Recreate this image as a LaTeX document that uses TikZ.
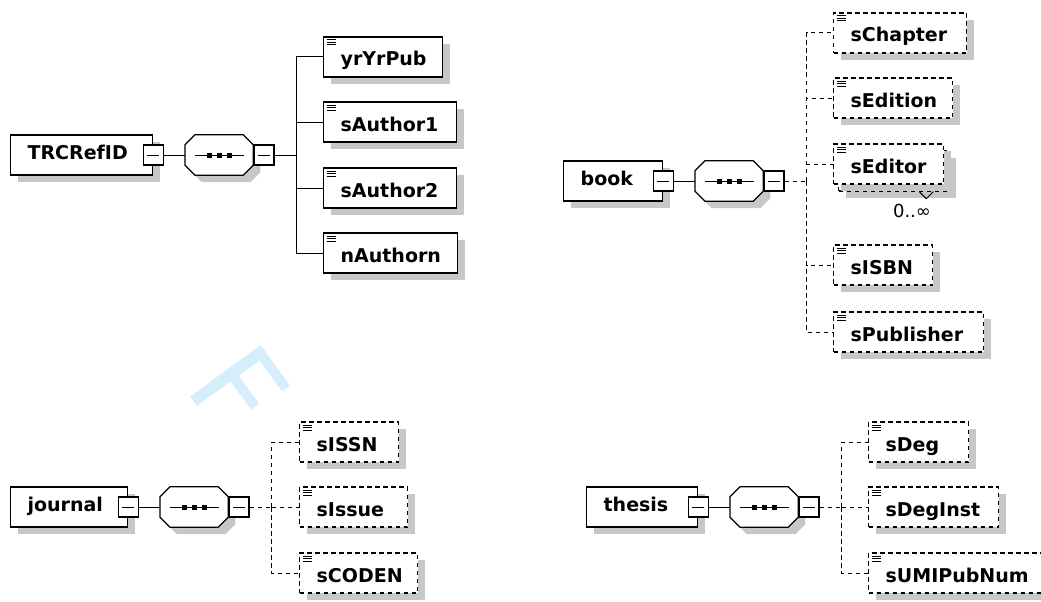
\documentclass[tikz,border=0pt]{standalone}
\usepackage{fontspec}
\setmainfont{DejaVu Sans}
\usetikzlibrary{
    positioning,
    backgrounds,
    shadows
    }

\newcommand{\elemfont}{\fontsize{19}{21}\selectfont\bfseries\hyphenpenalty=10000\exhyphenpenalty=10000}
\definecolor{wmblue}{RGB}{214,238,252}

\begin{document}
\begin{tikzpicture}[x=1pt, y=-1pt]
\tikzset{shade under/.style =
        {
            drop shadow={shadow xshift=7pt, shadow yshift=-7pt, fill=black!22, opacity=1}
        }
}

\tikzset{parent/.style =
        {
            rectangle,
            draw,
            line width=1.3pt,
            fill=white,
            shade under,
            minimum height=40,
            inner xsep=17pt,
            text height=13pt,
            text depth=5pt,
            align=left,
            anchor=west,
            font=\elemfont
        }
}

\tikzset{child/.style =
        {
            parent,
            text height=18pt,
            text depth=0pt,
            path picture={
                    \draw[solid, line width=1pt]
                        ([shift={(3,3)}]path picture bounding box.north west) -- ++(9,0)
                        ([shift={(3,5.5)}]path picture bounding box.north west) -- ++(9,0)
                        ([shift={(3,8)}]path picture bounding box.north west) -- ++(9,0);
                }
        }
}

\tikzset{optdash/.style = { dash pattern=on 4.5pt off 3.5pt } }

\tikzset{child opt/.style = { child, optdash } }

\tikzset{child back/.style =
        {
            rectangle,
            draw,
            optdash,
            line width=1.3pt,
            fill=white,
            shade under,
            minimum height=40,
            anchor=west
        }
}

\tikzset{mbox/.style =
        {
            rectangle,
            draw,
            line width=1.2pt,
            fill=white,
            minimum size=20,
            inner sep=0pt,
            path picture={
                    \draw[solid, line width=1pt]
                        ([shift={(4,0)}]path picture bounding box.west) --
                        ([shift={(-4,0)}]path picture bounding box.east);
                }
        }
}

\tikzset{seq/.style =
        {
            rectangle,
            minimum width=68,
            minimum height=40,
            inner sep=0pt
        }
}

\tikzset{seqline/.style = { line width=1.2pt, fill=white } }

\tikzset{wire/.style = { line width=1pt } }

\tikzset{wire opt/.style = { wire, optdash } }

\tikzset{occurs/.style = { font=\fontsize{18}{20}\selectfont, inner sep=0pt } }

\tikzset{wmark/.style = { text=wmblue, font=\fontsize{120}{120}\selectfont, inner sep=0pt } }

    \useasboundingbox (0,0) rectangle (1041,602);

    \node[wmark, rotate=-54] (wm) at (239,390) {F};

    % TRCRefID
    \node[parent, minimum width=142, text width=108pt] (p1) at (10,155) {TRCRefID};
    \node[mbox] (m1a) at (p1.east) {};
    \node[seq, right=21pt of m1a] (s1) {};
    \node[mbox, right=0pt of s1] (m1b) {};
    \coordinate[right=22pt of m1b] (t1);

    % book
    \node[parent, minimum width=99, text width=65pt] (p2) at (563,181) {book};
    \node[mbox] (m2a) at (p2.east) {};
    \node[seq, right=21pt of m2a] (s2) {};
    \node[mbox, right=0pt of s2] (m2b) {};
    \coordinate[right=22pt of m2b] (t2);

    % journal
    \node[parent, minimum width=117, text width=83pt] (p3) at (10,507) {journal};
    \node[mbox] (m3a) at (p3.east) {};
    \node[seq, right=21pt of m3a] (s3) {};
    \node[mbox, right=0pt of s3] (m3b) {};
    \coordinate[right=22pt of m3b] (t3);

    % thesis
    \node[parent, minimum width=111, text width=77pt] (p4) at (586,507) {thesis};
    \node[mbox] (m4a) at (p4.east) {};
    \node[seq, right=21pt of m4a] (s4) {};
    \node[mbox, right=0pt of s4] (m4b) {};
    \coordinate[right=22pt of m4b] (t4);

    \begin{scope}[on background layer]
        \foreach \s in {s1, s2, s3, s4}
        {
            \draw[seqline, shade under]
                ([shift={(10,0)}]\s.north west) -- ([shift={(-10,0)}]\s.north east)
                -- ([shift={(0,10)}]\s.north east) -- ([shift={(0,-10)}]\s.south east)
                -- ([shift={(-10,0)}]\s.south east) -- ([shift={(10,0)}]\s.south west)
                -- ([shift={(0,-10)}]\s.south west) -- ([shift={(0,10)}]\s.north west) -- cycle;
            \draw[wire] ([shift={(10,0)}]\s.west) -- ([shift={(-9,0)}]\s.east);
            \foreach \dx in {-10, 0, 10}
                \fill ([shift={(\dx,0)}]\s.center) +(-2.5,-2.5) rectangle +(2.5,2.5);
        }
    \end{scope}

    \foreach \nm/\txt/\yy/\w [evaluate=\w as \tw using \w-34] in
        {yr/yrYrPub/57/119,
            au1/sAuthor1/122/133,
            au2/sAuthor2/188/133,
            aun/nAuthorn/253/134}
    \node[child, minimum width=\w, text width=\tw pt] (\nm) at (323,\yy) {\txt};

    \foreach \nm/\txt/\yy/\w [evaluate=\w as \tw using \w-34] in
        {chap/sChapter/33/133,
            edn/sEdition/98/119,
            isbn/sISBN/265/99,
            pub/sPublisher/332/150}
    \node[child opt, minimum width=\w, text width=\tw pt] (\nm) at (833,\yy) {\txt};

    \node[child back, minimum width=110] (edb) at (838,171) {};
    \node[child opt, shade under/.style={}, minimum width=110, text width=76pt] (ed) at (833,164) {sEditor};
    \draw[wire] ([shift={(-30,0)}]edb.south east) -- ++(7,7) -- ++(7,-7);
    \node[occurs] (edocc) at (912,211) {0..∞};

    \foreach \nm/\txt/\yy/\w [evaluate=\w as \tw using \w-34] in
        {issn/sISSN/442/99,
            iss/sIssue/507/108,
            coden/sCODEN/573/118}
    \node[child opt, minimum width=\w, text width=\tw pt] (\nm) at (299,\yy) {\txt};

    \foreach \nm/\txt/\yy/\w [evaluate=\w as \tw using \w-34] in
        {deg/sDeg/442/100,
            degi/sDegInst/507/130,
            umi/sUMIPubNum/573/180}
    \node[child opt, minimum width=\w, text width=\tw pt] (\nm) at (868,\yy) {\txt};

    % connectors
    \draw[wire] (m1a) -- (s1);
    \draw[wire] (m1b) -- (t1);
    \foreach \c in {yr, au1, au2, aun}
        \draw[wire] (t1) |- (\c);

    \draw[wire] (m2a) -- (s2);
    \draw[wire opt] (m2b) -- (t2);
    \foreach \c in {chap, edn, ed, isbn, pub}
        \draw[wire opt] (t2) |- (\c);

    \draw[wire] (m3a) -- (s3);
    \draw[wire opt] (m3b) -- (t3);
    \foreach \c in {issn, iss, coden}
        \draw[wire opt] (t3) |- (\c);

    \draw[wire] (m4a) -- (s4);
    \draw[wire opt] (m4b) -- (t4);
    \foreach \c in {deg, degi, umi}
        \draw[wire opt] (t4) |- (\c);

\end{tikzpicture}
\end{document}
